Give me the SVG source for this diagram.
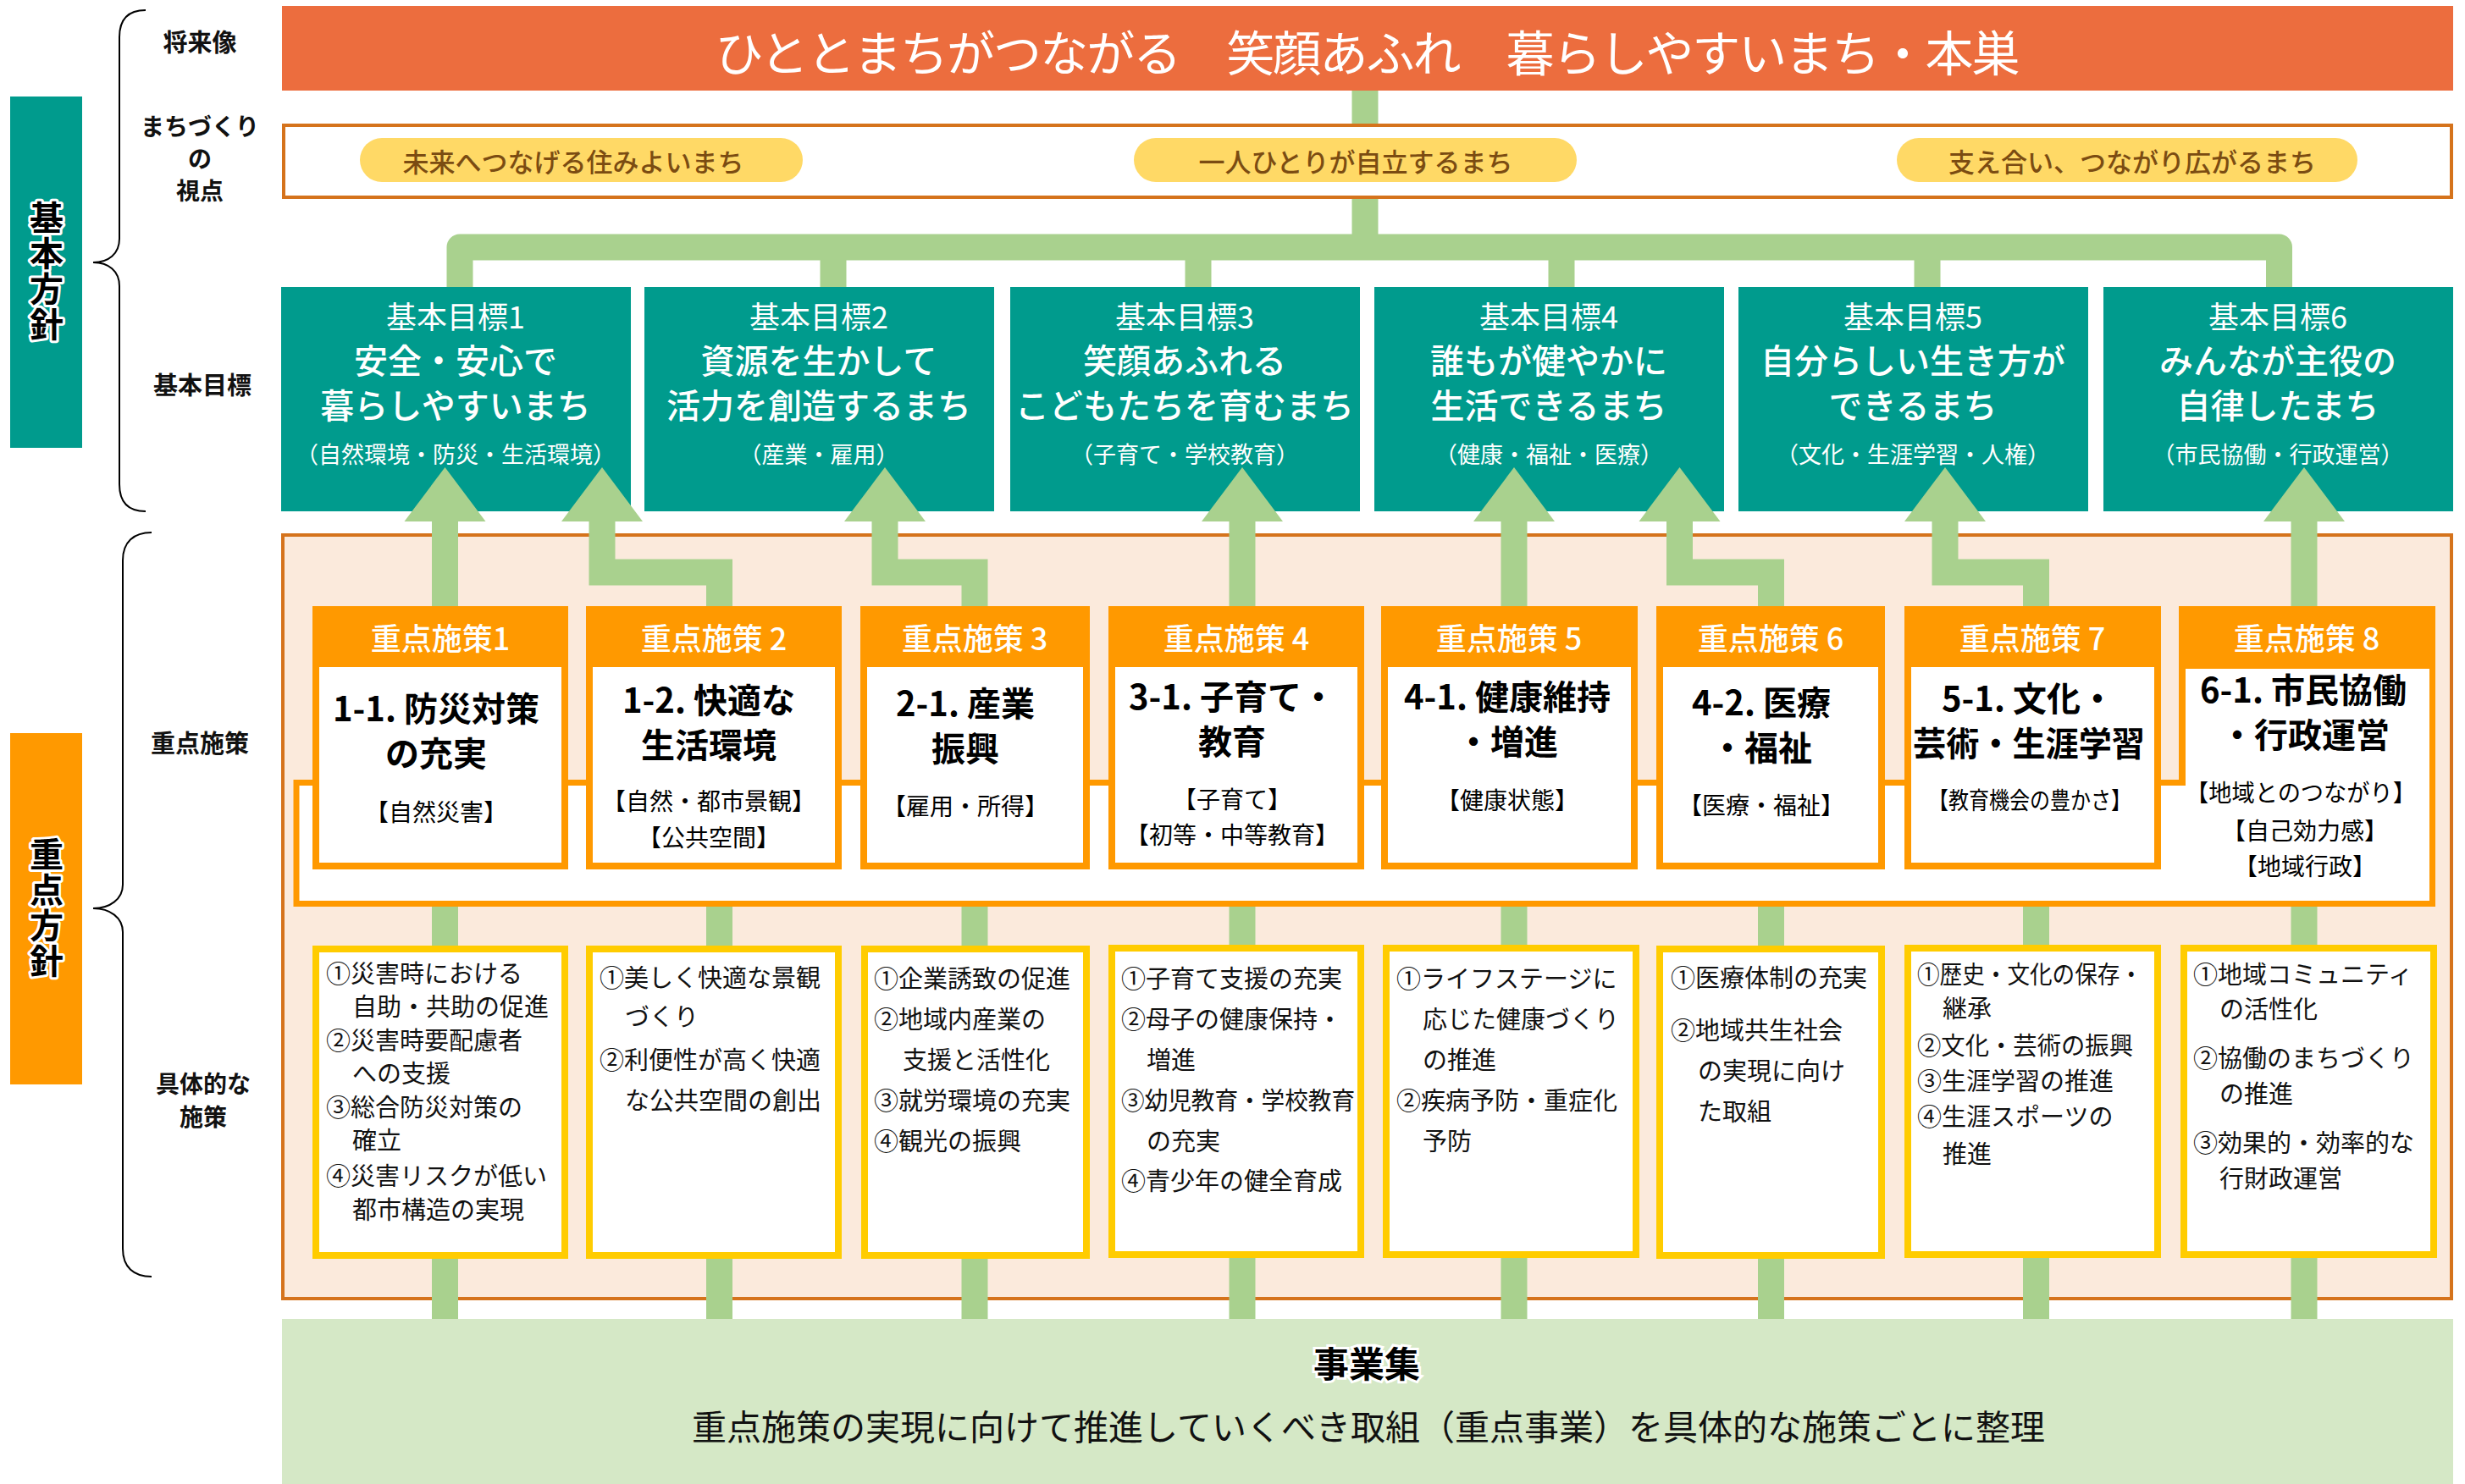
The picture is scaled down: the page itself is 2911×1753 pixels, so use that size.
<svg xmlns="http://www.w3.org/2000/svg" width="2911" height="1753" viewBox="0 0 2911 1753">
<defs>
<style>
text{font-family:"Noto Sans CJK JP","Noto Sans",sans-serif;dominant-baseline:central}
.lbl{font-size:29px;font-weight:700;fill:#111;text-anchor:middle}
.lbs{font-size:28px;font-weight:700;fill:#111;text-anchor:middle}
.vert{font-size:40px;font-weight:700;fill:#000;stroke:#fff;stroke-width:6px;paint-order:stroke;stroke-linejoin:round;text-anchor:middle;writing-mode:vertical-rl;letter-spacing:2px}
.pill{fill:#FFD966}
.pilltx{font-size:31px;fill:#7B4C12;text-anchor:middle;font-weight:500}
.goal{fill:#009B8D}
.gt{fill:#fff;text-anchor:middle}
.g1{font-size:36px;font-weight:400}
.g2{font-size:40px;font-weight:500}
.g3{font-size:27px;font-weight:400}
.mh{fill:#FF9900}
.mi{fill:#fff}
.mht{font-size:36px;fill:#fff;text-anchor:middle;font-weight:500}
.mb{font-size:40px;font-weight:700;fill:#000;text-anchor:middle}
.ms{font-size:28px;fill:#000;text-anchor:middle}
.sp{fill:#fff;stroke:#FFCC00;stroke-width:8}
.st{font-size:29px;fill:#111}
.conn{fill:none;stroke:#A9D18E;stroke-width:31}
.head{fill:#A9D18E}
.brace{fill:none;stroke:#000;stroke-width:2}
</style>
</defs>
<rect x="0" y="0" width="2911" height="1753" fill="#fff"/>

<g id="left-labels">
<rect x="12" y="114" width="85" height="415" fill="#009B8D"/>
<text class="vert" x="55" y="321">基本方針</text>
<rect x="12" y="866" width="85" height="415" fill="#FF9900"/>
<text class="vert" x="55" y="1073">重点方針</text>
<path class="brace" d="M172,12 C152,12 141,22 141,44 V282 C141,300 128,310 110,310 C128,310 141,320 141,338 V572 C141,594 152,604 172,604"/>
<path class="brace" d="M179,629 C158,629 145,640 145,662 V1045 C145,1062 130,1073 110,1073 C130,1073 145,1084 145,1101 V1475 C145,1497 158,1508 179,1508"/>
<text class="lbl" x="236" y="48">将来像</text>
<text class="lbs"><tspan x="236" y="148">まちづくり</tspan><tspan x="236" y="186">の</tspan><tspan x="236" y="224">視点</tspan></text>
<text class="lbl" x="239" y="453">基本目標</text>
<text class="lbl" x="236" y="876">重点施策</text>
<text class="lbs"><tspan x="240" y="1279">具体的な</tspan><tspan x="240" y="1318">施策</tspan></text>
</g>

<g id="vision">
<rect x="333" y="7" width="2564" height="100" fill="#EC6D3E"/>
<text x="1615" y="59" font-size="57" fill="#fff" text-anchor="middle" textLength="1541" lengthAdjust="spacing">ひととまちがつながる　笑顔あふれ　暮らしやすいまち・本巣</text>
</g>

<g id="viewpoints">
<rect x="335" y="148" width="2560" height="85" fill="#fff" stroke="#D5731C" stroke-width="4"/>
<rect class="pill" x="425" y="163" width="523" height="52" rx="26"/>
<text class="pilltx" x="677" y="189">未来へつなげる住みよいまち</text>
<rect class="pill" x="1339" y="163" width="523" height="52" rx="26"/>
<text class="pilltx" x="1601" y="189">一人ひとりが自立するまち</text>
<rect class="pill" x="2240" y="163" width="544" height="52" rx="26"/>
<text class="pilltx" x="2518" y="189">支え合い、つながり広がるまち</text>
</g>

<g id="goal-1">
<rect class="goal" x="332" y="339" width="413" height="265"/>
<text class="gt"><tspan class="g1" x="538" y="372">基本目標1</tspan><tspan class="g2" x="538" y="424">安全・安心で</tspan><tspan class="g2" x="538" y="477">暮らしやすいまち</tspan><tspan class="g3" x="538" y="535">（自然環境・防災・生活環境）</tspan></text>
</g>
<g id="goal-2">
<rect class="goal" x="761" y="339" width="413" height="265"/>
<text class="gt"><tspan class="g1" x="967" y="372">基本目標2</tspan><tspan class="g2" x="967" y="424">資源を生かして</tspan><tspan class="g2" x="967" y="477">活力を創造するまち</tspan><tspan class="g3" x="967" y="535">（産業・雇用）</tspan></text>
</g>
<g id="goal-3">
<rect class="goal" x="1193" y="339" width="413" height="265"/>
<text class="gt"><tspan class="g1" x="1399" y="372">基本目標3</tspan><tspan class="g2" x="1399" y="424">笑顔あふれる</tspan><tspan class="g2" x="1399" y="477">こどもたちを育むまち</tspan><tspan class="g3" x="1399" y="535">（子育て・学校教育）</tspan></text>
</g>
<g id="goal-4">
<rect class="goal" x="1623" y="339" width="413" height="265"/>
<text class="gt"><tspan class="g1" x="1829" y="372">基本目標4</tspan><tspan class="g2" x="1829" y="424">誰もが健やかに</tspan><tspan class="g2" x="1829" y="477">生活できるまち</tspan><tspan class="g3" x="1829" y="535">（健康・福祉・医療）</tspan></text>
</g>
<g id="goal-5">
<rect class="goal" x="2053" y="339" width="413" height="265"/>
<text class="gt"><tspan class="g1" x="2259" y="372">基本目標5</tspan><tspan class="g2" x="2259" y="424">自分らしい生き方が</tspan><tspan class="g2" x="2259" y="477">できるまち</tspan><tspan class="g3" x="2259" y="535">（文化・生涯学習・人権）</tspan></text>
</g>
<g id="goal-6">
<rect class="goal" x="2484" y="339" width="413" height="265"/>
<text class="gt"><tspan class="g1" x="2690" y="372">基本目標6</tspan><tspan class="g2" x="2690" y="424">みんなが主役の</tspan><tspan class="g2" x="2690" y="477">自律したまち</tspan><tspan class="g3" x="2690" y="535">（市民協働・行政運営）</tspan></text>
</g>

<g id="policy-area">
<rect x="334" y="632" width="2561" height="902" fill="#FBEADC" stroke="#D5731C" stroke-width="4"/>
</g>

<g id="jigyoshu">
<rect x="333" y="1558" width="2564" height="195" fill="#D5E8C6"/>
<text x="1614" y="1608" font-size="42" font-weight="700" fill="#000" stroke="#fff" stroke-width="6" paint-order="stroke" text-anchor="middle">事業集</text>
<text x="1616" y="1683" font-size="41" fill="#111" text-anchor="middle">重点施策の実現に向けて推進していくべき取組（重点事業）を具体的な施策ごとに整理</text>
</g>

<g id="measure-frame">
<rect x="350" y="924.5" width="2522.5" height="143" fill="#fff" stroke="#FF9900" stroke-width="7"/>
</g>

<g id="measure-1">
<rect class="mh" x="369" y="716" width="302" height="311"/>
<rect class="mi" x="377" y="788" width="286" height="231"/>
<text class="mht" x="520" y="752">重点施策1</text>
<text class="mb"><tspan x="515" y="835">1-1. 防災対策</tspan><tspan x="515" y="888">の充実</tspan></text>
<text class="ms" x="515" y="958">【自然災害】</text>
</g>
<g id="measure-2">
<rect class="mh" x="692" y="716" width="302" height="311"/>
<rect class="mi" x="700" y="788" width="286" height="231"/>
<text class="mht" x="843" y="752">重点施策 2</text>
<text class="mb"><tspan x="837" y="825">1-2. 快適な</tspan><tspan x="837" y="878">生活環境</tspan></text>
<text class="ms"><tspan x="837" y="945">【自然・都市景観】</tspan><tspan x="837" y="988">【公共空間】</tspan></text>
</g>
<g id="measure-3">
<rect class="mh" x="1016" y="716" width="271" height="311"/>
<rect class="mi" x="1024" y="788" width="255" height="231"/>
<text class="mht" x="1151" y="752">重点施策 3</text>
<text class="mb"><tspan x="1140" y="829">2-1. 産業</tspan><tspan x="1140" y="882">振興</tspan></text>
<text class="ms" x="1140" y="951">【雇用・所得】</text>
</g>
<g id="measure-4">
<rect class="mh" x="1309" y="716" width="302" height="311"/>
<rect class="mi" x="1317" y="788" width="286" height="231"/>
<text class="mht" x="1460" y="752">重点施策 4</text>
<text class="mb"><tspan x="1455" y="821">3-1. 子育て・</tspan><tspan x="1455" y="874">教育</tspan></text>
<text class="ms"><tspan x="1455" y="943">【子育て】</tspan><tspan x="1455" y="985">【初等・中等教育】</tspan></text>
</g>
<g id="measure-5">
<rect class="mh" x="1631" y="716" width="303" height="311"/>
<rect class="mi" x="1639" y="788" width="287" height="231"/>
<text class="mht" x="1782" y="752">重点施策 5</text>
<text class="mb"><tspan x="1780" y="821">4-1. 健康維持</tspan><tspan x="1780" y="874">・増進</tspan></text>
<text class="ms" x="1780" y="944">【健康状態】</text>
</g>
<g id="measure-6">
<rect class="mh" x="1956" y="716" width="270" height="311"/>
<rect class="mi" x="1964" y="788" width="254" height="231"/>
<text class="mht" x="2091" y="752">重点施策 6</text>
<text class="mb"><tspan x="2080" y="828">4-2. 医療</tspan><tspan x="2080" y="881">・福祉</tspan></text>
<text class="ms" x="2080" y="950">【医療・福祉】</text>
</g>
<g id="measure-7">
<rect class="mh" x="2249" y="716" width="303" height="311"/>
<rect class="mi" x="2257" y="788" width="287" height="231"/>
<text class="mht" x="2400" y="752">重点施策 7</text>
<text class="mb"><tspan x="2395" y="823">5-1. 文化・</tspan><tspan x="2396" y="876" textLength="274" lengthAdjust="spacingAndGlyphs">芸術・生涯学習</tspan></text>
<text class="ms" x="2397" y="944" textLength="240" lengthAdjust="spacingAndGlyphs">【教育機会の豊かさ】</text>
</g>
<g id="measure-8">
<rect class="mh" x="2573" y="716" width="303" height="212"/>
<rect class="mi" x="2581" y="790" width="288" height="274"/>
<text class="mht" x="2724" y="752">重点施策 8</text>
<text class="mb"><tspan x="2720" y="813">6-1. 市民協働</tspan><tspan x="2722" y="866">・行政運営</tspan></text>
<text class="ms"><tspan x="2717" y="935" textLength="272" lengthAdjust="spacingAndGlyphs">【地域とのつながり】</tspan><tspan x="2722" y="980">【自己効力感】</tspan><tspan x="2722" y="1022">【地域行政】</tspan></text>
</g>

<g id="specific-1">
<rect class="sp" x="373" y="1121" width="294" height="362"/>
<text class="st"><tspan x="385" y="1148">①災害時における</tspan><tspan x="416" y="1187">自助・共助の促進</tspan><tspan x="385" y="1227">②災害時要配慮者</tspan><tspan x="416" y="1266">への支援</tspan><tspan x="385" y="1306">③総合防災対策の</tspan><tspan x="416" y="1345">確立</tspan><tspan x="385" y="1387">④災害リスクが低い</tspan><tspan x="416" y="1427">都市構造の実現</tspan></text>
</g>
<g id="specific-2">
<rect class="sp" x="696" y="1121" width="294" height="362"/>
<text class="st"><tspan x="708" y="1153">①美しく快適な景観</tspan><tspan x="738" y="1199">づくり</tspan><tspan x="708" y="1250">②利便性が高く快適</tspan><tspan x="738" y="1298">な公共空間の創出</tspan></text>
</g>
<g id="specific-3">
<rect class="sp" x="1021" y="1121" width="262" height="362"/>
<text class="st"><tspan x="1032" y="1154">①企業誘致の促進</tspan><tspan x="1032" y="1202">②地域内産業の</tspan><tspan x="1066" y="1250">支援と活性化</tspan><tspan x="1032" y="1298">③就労環境の充実</tspan><tspan x="1032" y="1346">④観光の振興</tspan></text>
</g>
<g id="specific-4">
<rect class="sp" x="1313" y="1120" width="294" height="362"/>
<text class="st"><tspan x="1324" y="1154">①子育て支援の充実</tspan><tspan x="1324" y="1202">②母子の健康保持・</tspan><tspan x="1354" y="1250">増進</tspan><tspan x="1324" y="1298" textLength="276" lengthAdjust="spacingAndGlyphs">③幼児教育・学校教育</tspan><tspan x="1354" y="1346">の充実</tspan><tspan x="1324" y="1393">④青少年の健全育成</tspan></text>
</g>
<g id="specific-5">
<rect class="sp" x="1637" y="1120" width="295" height="362"/>
<text class="st"><tspan x="1649" y="1154">①ライフステージに</tspan><tspan x="1680" y="1202">応じた健康づくり</tspan><tspan x="1680" y="1250">の推進</tspan><tspan x="1649" y="1298">②疾病予防・重症化</tspan><tspan x="1680" y="1346">予防</tspan></text>
</g>
<g id="specific-6">
<rect class="sp" x="1960" y="1121" width="262" height="362"/>
<text class="st"><tspan x="1973" y="1153">①医療体制の充実</tspan><tspan x="1973" y="1215">②地域共生社会</tspan><tspan x="2005" y="1263">の実現に向け</tspan><tspan x="2005" y="1311">た取組</tspan></text>
</g>
<g id="specific-7">
<rect class="sp" x="2253" y="1120" width="295" height="362"/>
<text class="st"><tspan x="2264" y="1149" textLength="266" lengthAdjust="spacingAndGlyphs">①歴史・文化の保存・</tspan><tspan x="2294" y="1189">継承</tspan><tspan x="2264" y="1233" textLength="255" lengthAdjust="spacingAndGlyphs">②文化・芸術の振興</tspan><tspan x="2264" y="1275">③生涯学習の推進</tspan><tspan x="2264" y="1317">④生涯スポーツの</tspan><tspan x="2294" y="1361">推進</tspan></text>
</g>
<g id="specific-8">
<rect class="sp" x="2579" y="1120" width="295" height="362"/>
<text class="st"><tspan x="2590" y="1149">①地域コミュニティ</tspan><tspan x="2621" y="1190">の活性化</tspan><tspan x="2590" y="1248">②協働のまちづくり</tspan><tspan x="2621" y="1290">の推進</tspan><tspan x="2590" y="1348">③効果的・効率的な</tspan><tspan x="2621" y="1390">行財政運営</tspan></text>
</g>

<g id="connectors">
<path class="conn" d="M1612,107 V146"/>
<path class="conn" d="M1612,235 V292"/>
<path class="conn" stroke-linejoin="round" d="M543,339 V292 H2691.5 V339"/>
<path class="conn" d="M984,292 V339 M1415,292 V339 M1844,292 V339 M2276,292 V339"/>
<path class="conn" d="M525.5,716 V612"/>
<path class="conn" d="M849.5,716 V676 H711 V612"/>
<path class="conn" d="M1151,716 V676 H1045 V612"/>
<path class="conn" d="M1467,716 V612"/>
<path class="conn" d="M1788,716 V612"/>
<path class="conn" d="M2091.5,716 V676 H1983.5 V612"/>
<path class="conn" d="M2404.5,716 V676 H2297 V612"/>
<path class="conn" d="M2721,716 V612"/>
<polygon class="head" points="525.5,552 573.5,616 477.5,616"/>
<polygon class="head" points="711,552 759,616 663,616"/>
<polygon class="head" points="1045,552 1093,616 997,616"/>
<polygon class="head" points="1467,552 1515,616 1419,616"/>
<polygon class="head" points="1788,552 1836,616 1740,616"/>
<polygon class="head" points="1983.5,552 2031.5,616 1935.5,616"/>
<polygon class="head" points="2297,552 2345,616 2249,616"/>
<polygon class="head" points="2721,552 2769,616 2673,616"/>
<path class="conn" d="M525.5,1071 V1117 M849.5,1071 V1117 M1151,1071 V1117 M1467,1071 V1116 M1788,1071 V1116 M2091.5,1071 V1117 M2404.5,1071 V1116 M2721,1071 V1116"/>
<path class="conn" d="M525.5,1487 V1558 M849.5,1487 V1558 M1151,1487 V1558 M1467,1486 V1558 M1788,1486 V1558 M2091.5,1487 V1558 M2404.5,1486 V1558 M2721,1486 V1558"/>
</g>
</svg>
